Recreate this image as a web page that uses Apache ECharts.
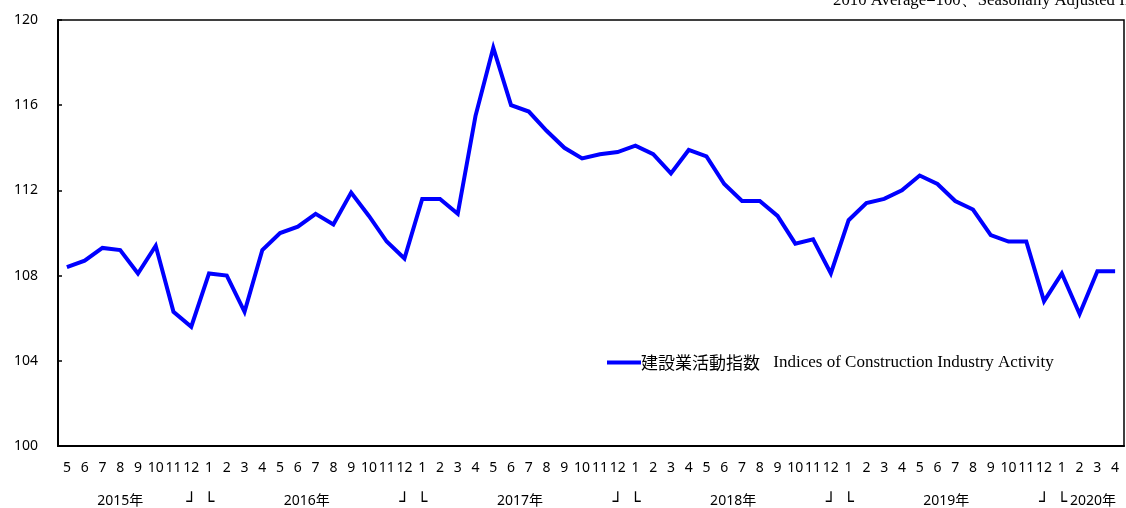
<!DOCTYPE html>
<html>
<head>
<meta charset="utf-8">
<script src="https://cdn.jsdelivr.net/npm/echarts@6/dist/echarts.min.js"></script>
<style>
html,body{margin:0;padding:0;background:#fff;}
#chart{width:1126px;height:508px;}
</style>
</head>
<body>
<div id="chart"></div>
<script>
// Months from 2015-05 to 2020-04
const monthLabels = ['5','6','7','8','9','10','11','12',
  '1','2','3','4','5','6','7','8','9','10','11','12',
  '1','2','3','4','5','6','7','8','9','10','11','12',
  '1','2','3','4','5','6','7','8','9','10','11','12',
  '1','2','3','4','5','6','7','8','9','10','11','12',
  '1','2','3','4'];

const activityIndex = [
  108.4, 108.7, 109.3, 109.2, 108.1, 109.4, 106.3, 105.6,
  108.1, 108.0, 106.3, 109.2, 110.0, 110.3, 110.9, 110.4, 111.9, 110.8, 109.6, 108.8,
  111.6, 111.6, 110.9, 115.5, 118.7, 116.0, 115.7, 114.8, 114.0, 113.5, 113.7, 113.8,
  114.1, 113.7, 112.8, 113.9, 113.6, 112.3, 111.5, 111.5, 110.8, 109.5, 109.7, 108.1,
  110.6, 111.4, 111.6, 112.0, 112.7, 112.3, 111.5, 111.1, 109.9, 109.6, 109.6, 106.8,
  108.1, 106.2, 108.2, 108.2
];

// Year row labels (position expressed in month-index units)
const yearRowPos  = [3, 7, 8, 13.5, 19, 20, 25.5, 31, 32, 37.5, 43, 44, 49.5, 55, 56, 57.75];
const yearRowText = ['2015年','┘','└','2016年','┘','└','2017年','┘','└','2018年','┘','└','2019年','┘','└','2020年'];

const yTicks = [100, 104, 108, 112, 116, 120];

const seriesNameJa = '建設業活動指数';
const seriesNameEn = 'Indices of Construction Industry Activity';
const unitNote = '2010 Average=100、Seasonally Adjusted Index';

const yearMap = {};
yearRowPos.forEach((p, i) => { yearMap[Math.round(p * 4)] = yearRowText[i]; });

const chart = echarts.init(document.getElementById('chart'), null, {renderer: 'canvas'});
const sans = '"Noto Sans", "Noto Sans CJK JP", sans-serif';
chart.setOption({
  animation: false,
  backgroundColor: '#fff',
  title: {
    text: unitNote,
    left: 828,
    top: -13,
    textStyle: {fontFamily: '"Liberation Serif", serif', fontSize: 16.75, fontWeight: 'normal', color: '#000'}
  },
  grid: {
    left: 58, right: 2, top: 20, bottom: 62,
    outerBoundsMode: 'none',
    containLabel: false,
    show: true, borderColor: '#000', borderWidth: 1.5, backgroundColor: 'transparent'
  },
  legend: {
    left: 602, top: 349,
    icon: 'rect', itemWidth: 34, itemHeight: 4, itemGap: 10,
    data: [seriesNameJa],
    formatter: () => '{a|' + seriesNameJa + '}    {b|' + seriesNameEn + '}',
    textStyle: {
      padding: [0, 0, 0, -5],
      rich: {
        a: {fontFamily: '"Noto Sans CJK JP", sans-serif', fontSize: 17, color: '#000'},
        b: {fontFamily: '"Liberation Serif", serif', fontSize: 17, color: '#000'}
      }
    }
  },
  xAxis: [{
    type: 'category',
    data: monthLabels,
    boundaryGap: true,
    axisLine: {show: true, onZero: false, lineStyle: {color: '#000', width: 2}},
    axisTick: {show: false},
    axisLabel: {interval: 0, margin: 15, fontFamily: sans, fontSize: 14, color: '#000'},
    splitLine: {show: false}
  }, {
    type: 'value',
    position: 'bottom',
    min: -0.5, max: 59.5, interval: 0.25,
    axisLine: {show: false, onZero: false},
    axisTick: {show: false},
    splitLine: {show: false},
    axisLabel: {
      margin: 48, fontFamily: sans, fontSize: 14, color: '#000',
      showMinLabel: true, showMaxLabel: true,
      formatter: v => {
        const t = yearMap[Math.round(v * 4)] || '';
        if (t === '┘' || t === '└') return '{m|' + t + '}';
        return t;
      },
      rich: {
        m: {fontFamily: '"DejaVu Sans", sans-serif', fontSize: 17, fontWeight: 'bold', color: '#000'}
      }
    }
  }],
  yAxis: {
    type: 'value',
    min: yTicks[0], max: yTicks[yTicks.length - 1], interval: 4,
    axisLine: {show: true, onZero: false, lineStyle: {color: '#000', width: 2}},
    axisTick: {show: true, inside: true, length: 4, lineStyle: {color: '#000', width: 1.5}},
    splitLine: {show: false},
    axisLabel: {margin: 20, fontFamily: sans, fontSize: 14, color: '#000'}
  },
  series: [{
    name: seriesNameJa,
    type: 'line',
    xAxisIndex: 0,
    data: activityIndex,
    symbol: 'none',
    lineStyle: {color: '#0000ff', width: 4, join: 'miter'},
    itemStyle: {color: '#0000ff'}
  }]
});
</script>
</body>
</html>
